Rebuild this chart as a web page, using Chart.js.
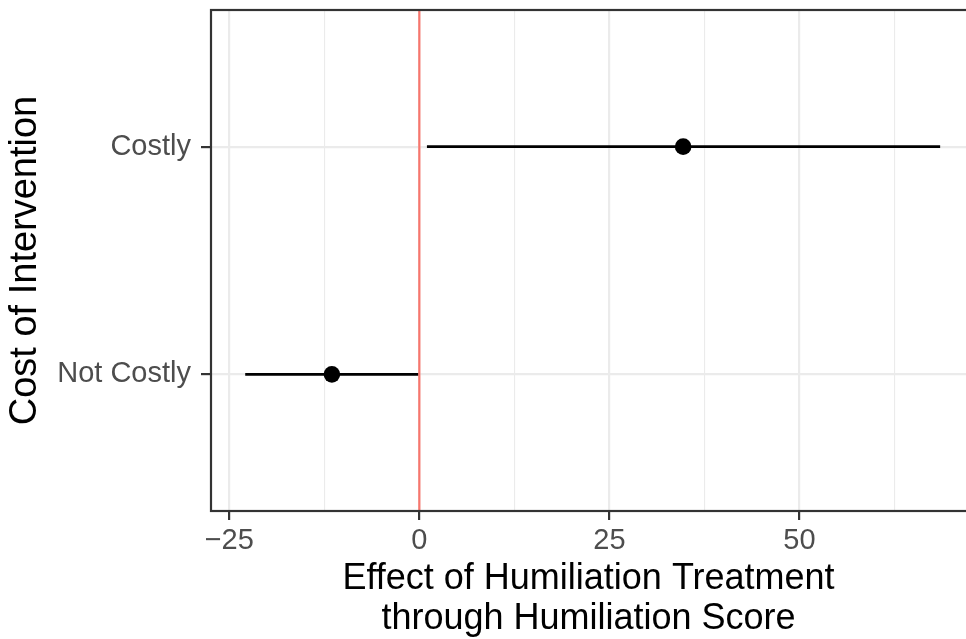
<!DOCTYPE html>
<html>
<head>
<meta charset="utf-8">
<script src="https://cdn.jsdelivr.net/npm/chart.js@4"></script>
<style>
  html, body { margin: 0; padding: 0; background: #fff; }
  #wrap { width: 966px; height: 639px; position: relative; }
</style>
</head>
<body>
<div id="wrap"><canvas id="EffectChart"></canvas></div>
<script>
// data
const categories = ['Not Costly', 'Costly'];
const estimates = [-11.5, 34.7];
const lowerCI = [-22.9, 1.0];
const upperCI = [-0.1, 68.5];
const xTickValues = [-25, -12.5, 0, 12.5, 25, 37.5, 50, 62.5];
const xLabelValues = [-25, 0, 25, 50];
const zeroLine = 0;

const FONT = '"Liberation Sans", Arial, Helvetica, sans-serif';
const isMajor = v => xLabelValues.includes(v);

const panelBorder = {
    id: 'panelBorder',
    afterDraw(chart) {
        const {ctx, chartArea: a} = chart;
        ctx.save();
        ctx.strokeStyle = '#333333';
        ctx.lineWidth = 2.2;
        ctx.strokeRect(a.left, a.top, a.right - a.left + 4, a.bottom - a.top);
        ctx.restore();
    }
};

const datasets = [];
// error bars
categories.forEach((c, i) => {
    datasets.push({
        label: c + ' CI',
        data: [{x: lowerCI[i], y: i + 1}, {x: upperCI[i], y: i + 1}],
        showLine: true,
        borderColor: '#000000',
        borderWidth: 2.6,
        pointRadius: 0,
        order: 3
    });
});
// point estimates
datasets.push({
    label: 'Estimate',
    data: estimates.map((v, i) => ({x: v, y: i + 1})),
    backgroundColor: '#000000',
    borderWidth: 0,
    pointRadius: 8.3,
    order: 2
});
// zero reference line
datasets.push({
    label: 'Zero',
    data: [{x: zeroLine, y: 0.4}, {x: zeroLine, y: 2.6}],
    showLine: true,
    borderColor: '#F8766D',
    borderWidth: 2.2,
    pointRadius: 0,
    order: 1
});

new Chart(document.getElementById('EffectChart'), {
    type: 'scatter',
    data: { datasets: datasets },
    options: {
        responsive: true,
        maintainAspectRatio: false,
        animation: false,
        layout: { autoPadding: false, padding: { top: 10, left: 0, right: 0, bottom: 0 } },
        plugins: {
            legend: { display: false },
            tooltip: { enabled: false }
        },
        scales: {
            x: {
                type: 'linear',
                min: -27.4,
                max: 71.9,
                afterBuildTicks: scale => {
                    scale.ticks = xTickValues.map(v => ({value: v}));
                },
                afterFit: scale => {
                    scale.height = 128;
                    scale.paddingLeft = 0;
                    scale.paddingRight = 0;
                },
                border: { display: false },
                grid: {
                    color: '#EBEBEB',
                    lineWidth: ctx => isMajor(ctx.tick.value) ? 2.2 : 1.1,
                    tickColor: ctx => isMajor(ctx.tick.value) ? '#333333' : 'rgba(0,0,0,0)',
                    tickWidth: ctx => isMajor(ctx.tick.value) ? 2.2 : 0,
                    tickLength: 9
                },
                ticks: {
                    autoSkip: false,
                    maxRotation: 0,
                    padding: 4,
                    color: '#4D4D4D',
                    font: { family: FONT, size: 29 },
                    callback: v => isMajor(v) ? (v < 0 ? '\u2212' + Math.abs(v) : String(v)) : ''
                },
                title: {
                    display: true,
                    text: ['Effect of Humiliation Treatment', 'through Humiliation Score'],
                    color: '#000000',
                    font: { family: FONT, size: 36, lineHeight: 1.11 },
                    padding: { top: 0, bottom: 0 }
                }
            },
            y: {
                type: 'linear',
                min: 0.4,
                max: 2.6,
                afterBuildTicks: scale => {
                    scale.ticks = categories.map((c, i) => ({value: i + 1}));
                },
                afterFit: scale => {
                    scale.width = 211;
                    scale.paddingTop = 0;
                    scale.paddingBottom = 0;
                },
                border: { display: false },
                grid: {
                    color: '#EBEBEB',
                    lineWidth: 2.2,
                    tickColor: '#333333',
                    tickWidth: 2.2,
                    tickLength: 10
                },
                ticks: {
                    autoSkip: false,
                    padding: 10,
                    color: '#4D4D4D',
                    font: { family: FONT, size: 29 },
                    callback: v => categories[v - 1] || ''
                },
                title: {
                    display: true,
                    text: 'Cost of Intervention',
                    color: '#000000',
                    font: { family: FONT, size: 38 },
                    padding: { top: 3, bottom: 0 }
                }
            }
        }
    },
    plugins: [panelBorder]
});
</script>
</body>
</html>
